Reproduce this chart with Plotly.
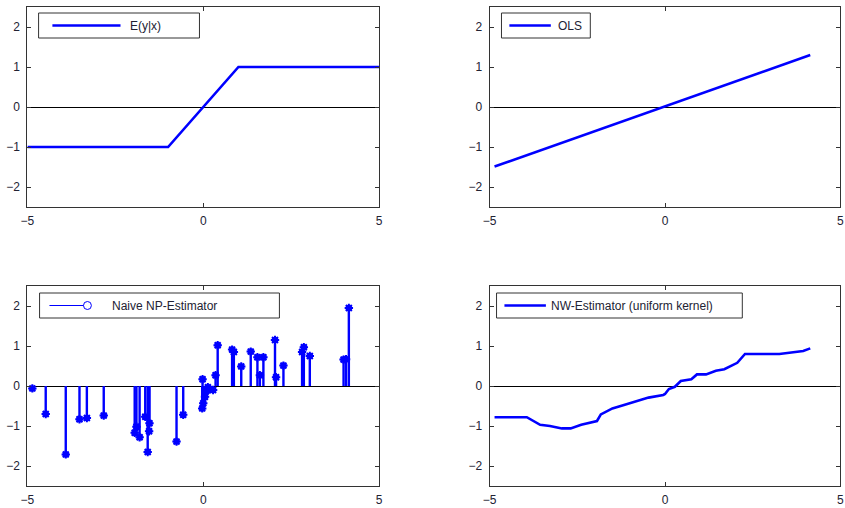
import plotly.graph_objects as go

W, H = 845, 508

# ---------------- data ----------------
true_x = [-5, -1, 1, 5]
true_y = [-1, -1, 1, 1]

ols_x = [-4.86, 4.14]
ols_y = [-1.49, 1.30]

stem_x = [-4.86, -4.48, -3.91, -3.52, -3.31, -2.83, -1.95, -1.90, -1.81, -1.65,
          -1.58, -1.54, -1.53, -0.76, -0.57, -0.02, -0.03, 0.00, 0.05, 0.08,
          0.13, 0.18, 0.28, 0.35, 0.41, 0.82, 0.87, 1.08, 1.35, 1.54,
          1.61, 1.71, 2.04, 2.07, 2.28, 2.81, 2.86, 3.03, 3.99, 4.06, 4.14]
stem_y = [-0.06, -0.70, -1.71, -0.83, -0.80, -0.74, -1.17, -1.02, -1.28, -0.77,
          -1.65, -1.13, -0.93, -1.39, -0.72, 0.17, -0.56, -0.43, -0.27, -0.13,
          -0.03, -0.08, -0.10, 0.27, 1.02, 0.91, 0.85, 0.49, 0.86, 0.72,
          0.27, 0.72, 1.15, 0.22, 0.51, 0.85, 0.97, 0.75, 0.66, 0.67, 1.95]

nw_x = [-4.86, -3.94, -3.56, -3.28, -2.94, -2.69, -2.39, -1.94, -1.83, -1.50,
        -1.17, -0.75, -0.47, -0.05, 0.0, 0.11, 0.28, 0.45, 0.75, 0.91,
        1.17, 1.45, 1.69, 2.06, 2.28, 3.26, 3.66, 3.94, 4.14]
nw_y = [-0.78, -0.78, -0.97, -1.0, -1.06, -1.06, -0.97, -0.875, -0.71, -0.56,
        -0.475, -0.37, -0.29, -0.225, -0.2, -0.075, -0.02, 0.125, 0.17, 0.29,
        0.29, 0.38, 0.42, 0.58, 0.80, 0.80, 0.84, 0.875, 0.94]

x_ticks = [-5, 0, 5]
y_ticks = [-2, -1, 0, 1, 2]
legend_labels = ["E(y|x)", "OLS", "Naive NP-Estimator", "NW-Estimator (uniform kernel)"]

BLUE = "#0000FF"
TXT = "#222233"
FONT = "Liberation Sans, Arial, sans-serif"

fig = go.Figure()

# top-left
fig.add_trace(go.Scatter(x=true_x, y=true_y, mode="lines", line=dict(color=BLUE, width=2.6),
                         xaxis="x", yaxis="y", showlegend=False))
# top-right
fig.add_trace(go.Scatter(x=ols_x, y=ols_y, mode="lines", line=dict(color=BLUE, width=2.6),
                         xaxis="x2", yaxis="y2", showlegend=False))
# bottom-left stems
sx, sy = [], []
for a, b in zip(stem_x, stem_y):
    sx += [a, a, None]
    sy += [0, b, None]
fig.add_trace(go.Scatter(x=sx, y=sy, mode="lines", line=dict(color=BLUE, width=2.4),
                         xaxis="x3", yaxis="y3", showlegend=False))
fig.add_trace(go.Scatter(x=stem_x, y=stem_y, mode="markers",
                         marker=dict(symbol="circle", size=6.5, color=BLUE),
                         xaxis="x3", yaxis="y3", showlegend=False))
fig.add_trace(go.Scatter(x=stem_x, y=stem_y, mode="markers",
                         marker=dict(symbol="asterisk-open", size=7, color=BLUE,
                                     line=dict(color=BLUE, width=2)),
                         xaxis="x3", yaxis="y3", showlegend=False))
# bottom-right
fig.add_trace(go.Scatter(x=nw_x, y=nw_y, mode="lines", line=dict(color=BLUE, width=2.6),
                         xaxis="x4", yaxis="y4", showlegend=False))

xdoms = {"L": [20.7 / W, 377 / W], "R": [489 / W, 844.4 / W]}
ydoms = {"T": [1 - 207 / H, 1 - 7 / H], "B": [1 - 486 / H, 1 - 286 / H]}

def xax(dom, anchor):
    return dict(domain=dom, anchor=anchor, range=[-5, 5], tickvals=x_ticks,
                ticks="inside", ticklen=4, tickcolor="#333", showline=True,
                linecolor="#333", linewidth=1, mirror="ticks", showgrid=False,
                zeroline=False, tickfont=dict(family=FONT, size=12, color=TXT),
                ticklabelstandoff=3, fixedrange=True)

def yax(dom, anchor):
    return dict(domain=dom, anchor=anchor, range=[-2.5, 2.5], tickvals=y_ticks,
                ticks="inside", ticklen=4, tickcolor="#333", showline=True,
                linecolor="#333", linewidth=1, mirror="ticks", showgrid=False,
                zeroline=True, zerolinecolor="#000", zerolinewidth=1,
                tickfont=dict(family=FONT, size=12, color=TXT),
                ticklabelstandoff=4, fixedrange=True)

layout = dict(
    width=W, height=H, margin=dict(l=0, r=0, t=0, b=0),
    paper_bgcolor="white", plot_bgcolor="white", showlegend=False,
    xaxis=xax(xdoms["L"], "y"), yaxis=yax(ydoms["T"], "x"),
    xaxis2=xax(xdoms["R"], "y2"), yaxis2=yax(ydoms["T"], "x2"),
    xaxis3=xax(xdoms["L"], "y3"), yaxis3=yax(ydoms["B"], "x3"),
    xaxis4=xax(xdoms["R"], "y4"), yaxis4=yax(ydoms["B"], "x4"),
)
fig.update_layout(**layout)

# ---------------- hand-drawn MATLAB-style legends ----------------
def px(x):
    return x / W

def py(y):
    return 1 - y / H

legends = [
    # box x0, x1, y0, y1, line x0, x1, text x, with_circle
    (32, 195, 13, 38, 46, 115, 123, False, legend_labels[0]),
    (501, 591, 13, 38, 509, 551, 556, False, legend_labels[1]),
    (33, 276, 293, 318, 43, 79, 104, True, legend_labels[2]),
    (496, 745, 293, 318, 504, 546, 549, False, legend_labels[3]),
]
shapes = []
annotations = []
for bx0, bx1, by0, by1, lx0, lx1, tx, circ, lab in legends:
    cy = (by0 + by1) / 2
    shapes.append(dict(type="rect", xref="paper", yref="paper",
                       x0=px(bx0), x1=px(bx1), y0=py(by1), y1=py(by0),
                       line=dict(color="#333", width=1), fillcolor="white", layer="above"))
    shapes.append(dict(type="line", xref="paper", yref="paper",
                       x0=px(lx0), x1=px(lx1), y0=py(cy), y1=py(cy),
                       line=dict(color=BLUE, width=1 if circ else 2.6), layer="above"))
    if circ:
        r = 4
        shapes.append(dict(type="circle", xref="paper", yref="paper",
                           x0=px(lx1 + 2.5 - r), x1=px(lx1 + 2.5 + r),
                           y0=py(cy + r), y1=py(cy - r),
                           line=dict(color=BLUE, width=1), fillcolor="white", layer="above"))
    annotations.append(dict(xref="paper", yref="paper", x=px(tx), y=py(cy),
                            xanchor="left", yanchor="middle", showarrow=False,
                            text=lab, font=dict(family=FONT, size=12, color=TXT)))

fig.update_layout(shapes=shapes, annotations=annotations)

fig.write_html("out.html")
